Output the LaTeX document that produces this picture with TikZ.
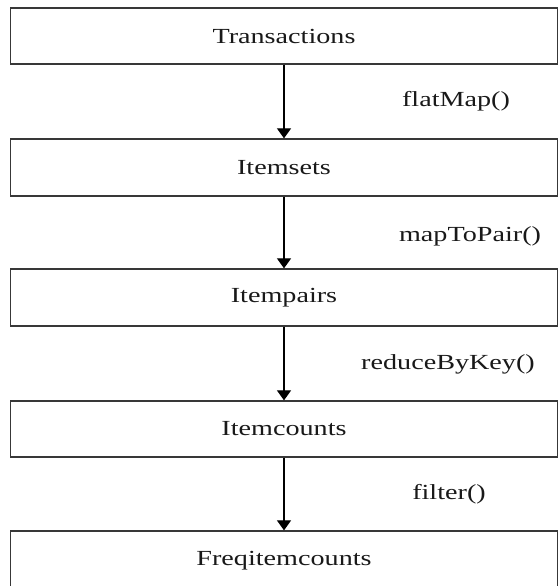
\documentclass[tikz,border=0pt]{standalone}
\usepackage{fontspec}
\setmainfont{Liberation Serif}
\usetikzlibrary{arrows.meta}
\tikzset{
  box/.style={draw=black!78, line width=1.3pt, minimum width=547pt, inner sep=0pt,
    font=\fontsize{21.5}{24}\selectfont, text=black!90},
  lbl/.style={inner sep=0pt, font=\fontsize{21.5}{24}\selectfont, text=black!90},
  arr/.style={draw=black, line width=1.2pt, -{Triangle[width=14pt,length=10pt]}}
}
\newcommand{\wide}[1]{\scalebox{1.31}[1]{#1}}
\begin{document}
\begin{tikzpicture}[x=1pt,y=-1pt]
\useasboundingbox (0,0) rectangle (559,586);
\clip (0,0) rectangle (559,586);
\fill[white] (0,0) rectangle (559,586);
\node[box, minimum height=56pt] (A) at (284,36) {\wide{Transactions}};
\node[box, minimum height=57pt] (B) at (284,167.5) {\wide{Itemsets}};
\node[box, minimum height=57pt] (C) at (284,297.5) {\wide{Itempairs}};
\node[box, minimum height=56pt] (D) at (284,429) {\wide{Itemcounts}};
\node[box, minimum height=60pt] (E) at (284,561) {\wide{Freqitemcounts}};
\node[lbl] (l1) at (456,101) {\wide{flatMap()}};
\node[lbl] (l2) at (470,236) {\wide{mapToPair()}};
\node[lbl] (l3) at (448,364) {\wide{reduceByKey()}};
\node[lbl] (l4) at (449,494) {\wide{filter()}};
\draw[arr] (A.south) -- (B.north);
\draw[arr] (B.south) -- (C.north);
\draw[arr] (C.south) -- (D.north);
\draw[arr] (D.south) -- (E.north);
\end{tikzpicture}
\end{document}
